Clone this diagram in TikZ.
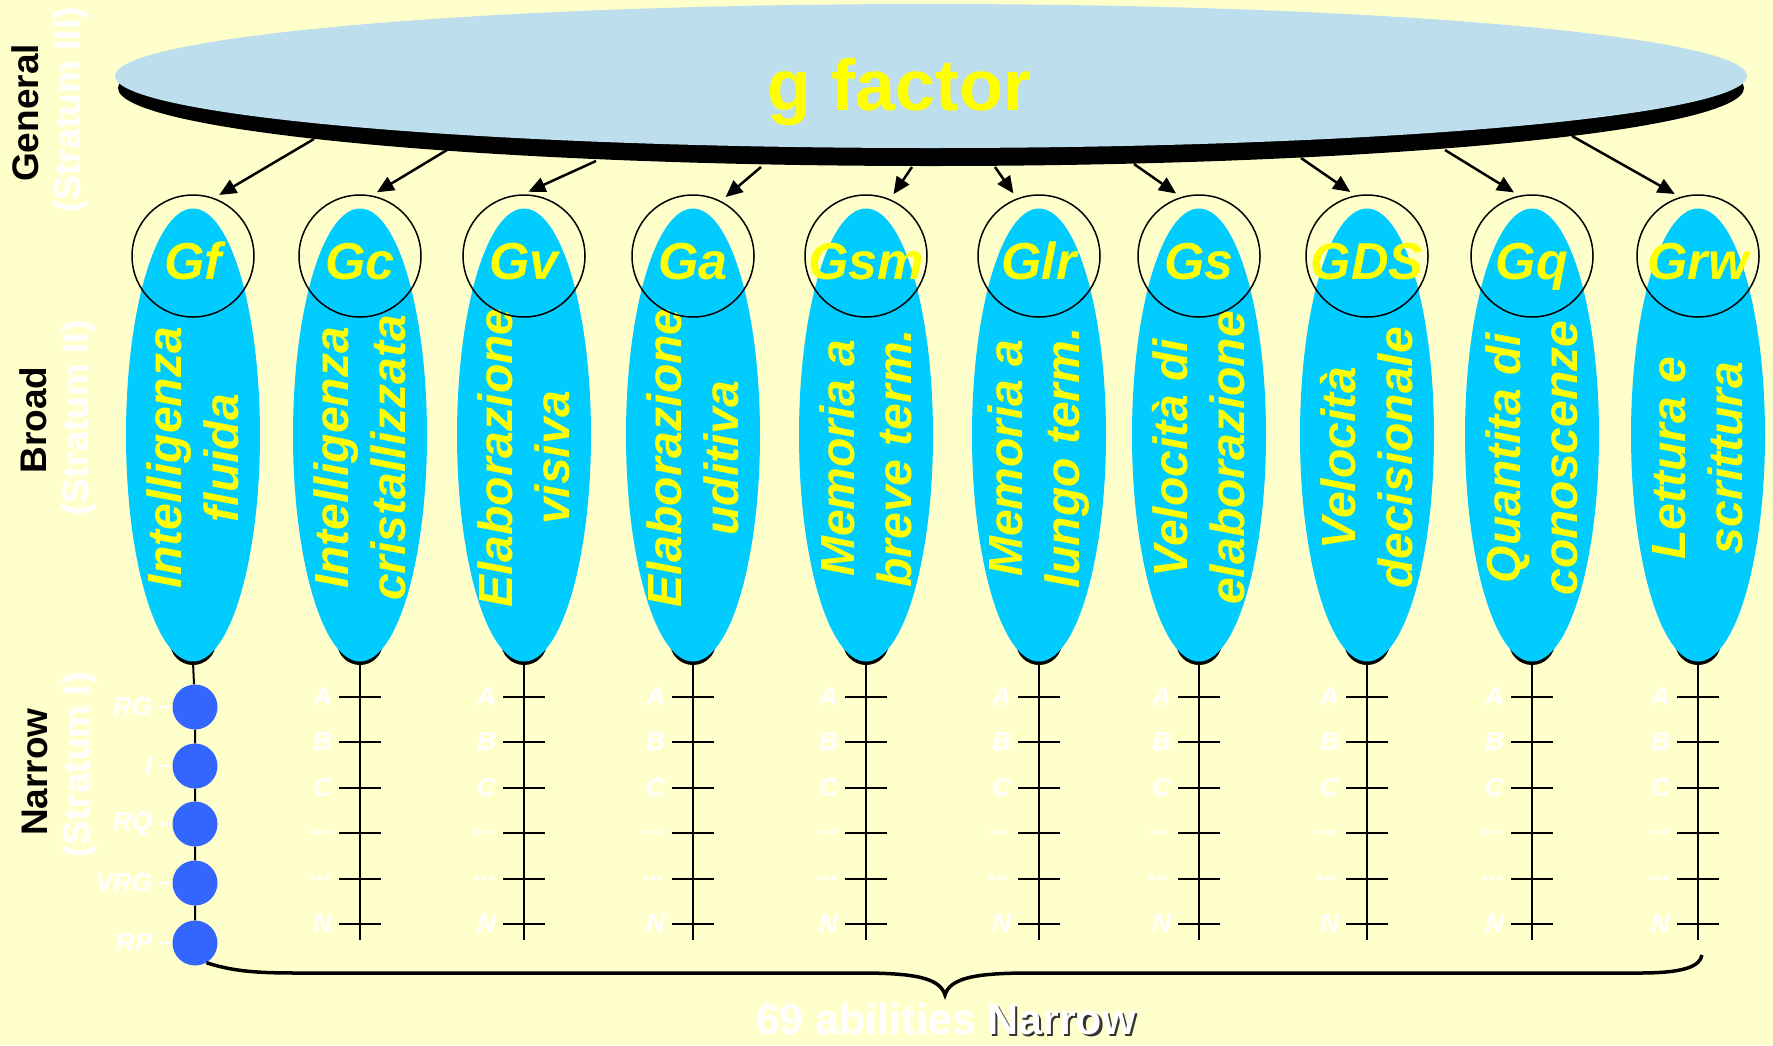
\documentclass[tikz,border=0pt]{standalone}
\usepackage{fontspec}
\setmainfont{Liberation Sans}
\usetikzlibrary{positioning,shapes.geometric,arrows.meta}

\definecolor{paper}{HTML}{FFFFCC}
\definecolor{gblue}{HTML}{BDDEEC}
\definecolor{broadcyan}{HTML}{00CCFF}
\definecolor{labelyellow}{HTML}{FFFF00}
\definecolor{dotblue}{HTML}{3366FF}

\newcommand{\elidedots}{...}

\tikzstyle{stratum} = [font=\fontsize{37}{40}\selectfont\bfseries, rotate=90, inner sep=0pt]
\tikzstyle{stratumsub} = [stratum, text=white]
\tikzstyle{gdisc} = [shape=ellipse, fill=gblue, minimum width=1632pt, minimum height=144pt, inner sep=0pt]
\tikzstyle{gshade} = [shape=ellipse, fill=black, minimum width=1626pt, minimum height=156pt, inner sep=0pt]
\tikzstyle{gtitle} = [text=labelyellow, font=\fontsize{72}{80}\selectfont\bfseries, inner sep=0pt]
\tikzstyle{broadbody} = [shape=ellipse, fill=broadcyan, minimum width=134pt, minimum height=453pt, inner sep=0pt]
\tikzstyle{broadfoot} = [shape=circle, fill=black, minimum size=46pt, inner sep=0pt]
\tikzstyle{broadtext} = [text=labelyellow, rotate=90, align=center, font=\fontsize{48}{57}\selectfont\bfseries\itshape, inner sep=0pt]
\tikzstyle{bcircle} = [shape=circle, draw, line width=1.5pt, minimum size=122pt, inner sep=0pt]
\tikzstyle{bname} = [text=labelyellow, font=\fontsize{52}{60}\selectfont\bfseries\itshape, text height=37pt, text depth=0pt, yshift=-5pt, inner sep=0pt]
\tikzstyle{arrowdecorate} = [->, >={Triangle[length=17pt,width=15pt]}, line width=2.5pt, shorten >=6pt]
\tikzstyle{axis} = [draw, line width=2pt]
\tikzstyle{tickmark} = [draw, line width=2pt]
\tikzstyle{ticklabel} = [text=white, font=\fontsize{26}{28}\selectfont\bfseries\itshape, inner sep=0pt]
\tikzstyle{narrowdot} = [shape=circle, fill=dotblue, minimum size=45pt, inner sep=0pt]
\tikzstyle{dashwhite} = [draw=white, line width=2.5pt, shorten <=8pt]
\tikzstyle{brace} = [draw, line width=3.5pt]
\tikzstyle{bottomtext} = [text=white, font=\fontsize{43}{46}\selectfont\bfseries, inner sep=0pt]

\begin{document}
\begin{tikzpicture}[x=1pt, y=-1pt]
      \useasboundingbox (0,0) rectangle (1773,1045);
      \fill[paper] (0,0) rectangle (1773,1045);

      %% strata on the left
      \node[stratum] (general) at (25,113) {General};
      \node[stratumsub] (stratum3) at (71,110) {(Stratum III)};
      \node[stratum] (broad) at (33,420) {Broad};
      \node[stratumsub] (stratum2) at (79,418) {(Stratum II)};
      \node[stratum] (narrow) at (35,772) {Narrow};
      \node[stratumsub] (stratum1) at (80,765) {(Stratum I)};

      %% g factor disc
      \node[gshade] (gshadow) at (931,88) {};
      \node[gdisc, label={[gtitle, xshift=-31pt, yshift=-16pt]center:g factor}] (g) at (931,76) {};

      %% broad abilities
      \foreach \nodename/\x/\name/\first/\second/\ang/\sx/\sy in {
        gf/193/Gf/Intelligenza/fluida/70/314/139,
        gc/360/Gc/Intelligenza/cristallizzata/79/447/150,
        gv/524/Gv/Elaborazione/visiva/91/596/161,
        ga/693/Ga/Elaborazione/uditiva/63/761/167,
        gsm/866/Gsm/Memoria a/breve term./67/912/167,
        glr/1039/Glr/Memoria a/lungo term./111/995/167,
        gs/1199/Gs/Velocità di/elaborazione/107/1134/164,
        gds/1367/GDS/Velocità/decisionale/101/1301/158,
        gq/1532/Gq/Quantita di/conoscenze/102/1445/150,
        grw/1698/Grw/Lettura e/scrittura/107/1572/136}
      {
        \node[broadfoot] (\nodename-foot) at (\x,642) {};
        \node[broadbody] (\nodename-body) at (\x,435) {};
        \node[broadtext] (\nodename-text) at (\x,458) {\first\\\second};
        \node[bcircle, label={[bname]center:\name}] (\nodename) at (\x,256) {};
        \coordinate (\nodename-src) at (\sx,\sy);
        \draw[arrowdecorate] (\nodename-src) -- (\nodename.\ang);
      }

      %% narrow abilities of Gf
      \foreach \dotname/\y/\lbl in {rg/707/RG, i/766/I, rq/824/RQ, vrg/883/VRG, rp/943/RP}
      {
        \node[narrowdot] (d-\dotname) at (195,\y) {};
        \node[ticklabel, left=20pt of d-\dotname] (l-\dotname) {\lbl};
        \draw[dashwhite] (l-\dotname) -- (d-\dotname);
      }
      \draw[axis] (gf-body.south) -- (d-rg) -- (d-i) -- (d-rq) -- (d-vrg) -- (d-rp);

      %% narrow abilities of the other factors
      \foreach \nodename/\x in {gc/360, gv/524, ga/693, gsm/866, glr/1039, gs/1199, gds/1367, gq/1532, grw/1698}
      {
        \coordinate (\nodename-end) at (\x,940);
        \draw[axis] (\nodename-body.south) -- (\nodename-end);
        \foreach \y/\lbl [count=\k] in {697/A, 742/B, 788/C, 833/\elidedots, 879/\elidedots, 924/N}
        {
          \coordinate (\nodename-t\k) at (\x,\y);
          \draw[tickmark] (\nodename-t\k) +(-21,0) -- +(21,0);
          \node[ticklabel, left=28pt of \nodename-t\k] {\lbl};
        }
      }

      %% brace and count
      \coordinate (bracetip) at (945,995);
      \coordinate (braceend) at (1702,955);
      \draw[brace] (d-rp.-60) .. controls (235,972) and (260,973) .. (300,973) -- (860,973)
        .. controls (915,973) and (940,978) .. (bracetip)
        .. controls (950,978) and (975,973) .. (1030,973) -- (1640,973)
        .. controls (1685,973) and (1700,966) .. (braceend);

      \node[bottomtext] (abilities) at (866,1019) {69 abilities};
      \node[bottomtext, text=black!80, base right=13.5pt of abilities, yshift=-2.5pt] (narrowshadow) {Narrow};
      \node[bottomtext, base right=11pt of abilities] (narrowlbl) {Narrow};
    \end{tikzpicture}
\end{document}
